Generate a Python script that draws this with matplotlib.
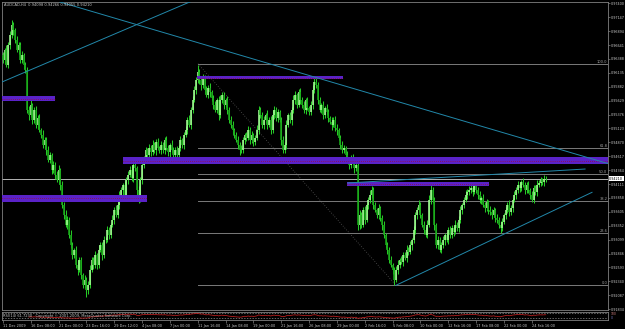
import numpy as np
import matplotlib
matplotlib.use("Agg")
import matplotlib.pyplot as plt
import matplotlib.transforms as mtransforms
from matplotlib.patches import Rectangle

W, H, DPI = 625, 329, 100
PX_PER_BAR = 1.74

title = "AUDCAD,H4  0.94098 0.94266 0.94055 0.94210"

# H4 closes, in pips (x 0.0001)
closes = [9637, 9655, 9628, 9664, 9682, 9700, 9691, 9673, 9655, 9664, 9637, 9646, 9628, 9619,
          9546, 9537, 9555, 9528, 9546, 9519, 9531, 9509, 9500, 9482, 9491,
          9473, 9455, 9464, 9437, 9446, 9428, 9418, 9437, 9409,
          9373, 9355, 9337, 9346, 9318, 9300, 9282, 9291, 9264, 9255, 9273,
          9246, 9227, 9237, 9218, 9227, 9255, 9273, 9264, 9282, 9264,
          9291, 9300, 9282, 9309, 9309, 9327, 9318, 9337, 9346, 9364, 9355, 9373,
          9391, 9400, 9409, 9391, 9418, 9428, 9437, 9422, 9446, 9440, 9400, 9382,
          9418, 9446, 9455, 9473, 9464, 9477, 9469, 9482, 9473, 9488, 9477, 9473,
          9482, 9473, 9491, 9477, 9469, 9482, 9473, 9464,
          9473, 9464, 9477, 9491, 9482, 9500, 9509, 9528, 9519, 9546,
          9564, 9582, 9600, 9615, 9600, 9591, 9604, 9582, 9573, 9586, 9578, 9568,
          9555, 9546, 9564, 9537, 9564, 9573, 9555, 9564, 9546, 9528, 9519, 9509,
          9500, 9491, 9482, 9473, 9473, 9491, 9500, 9495,
          9509, 9491, 9500, 9488, 9495, 9509, 9546, 9537, 9519,
          9528, 9537, 9519, 9528, 9509, 9537, 9546, 9531, 9542, 9528,
          9491, 9473, 9482, 9519, 9537, 9528, 9546,
          9564, 9573, 9555, 9578, 9564, 9555, 9546, 9564, 9549, 9542, 9555,
          9582, 9597, 9591, 9564, 9546, 9555, 9537, 9549, 9542,
          9531, 9524, 9519, 9528, 9513, 9509, 9495, 9482, 9473, 9477, 9464,
          9455, 9446, 9458, 9451, 9440, 9446,
          9337, 9355, 9337, 9364, 9346, 9373, 9382, 9391, 9400,
          9373, 9364, 9355, 9367, 9349, 9337,
          9318, 9300, 9291, 9273, 9264, 9255, 9237,
          9255, 9264, 9273, 9269, 9282, 9277, 9291, 9287, 9300, 9309,
          9327, 9355, 9364, 9373, 9355, 9337, 9327, 9318, 9337,
          9382, 9400, 9382, 9337, 9300, 9309, 9291, 9300, 9309,
          9318, 9309, 9327, 9318, 9331, 9324, 9337, 9331, 9346,
          9364, 9373, 9382, 9391, 9397, 9400, 9404, 9397, 9407, 9400,
          9391, 9382, 9386, 9373, 9367, 9378, 9364, 9360, 9355, 9364, 9349, 9346,
          9337, 9331, 9342, 9355, 9364, 9373, 9360, 9367, 9382,
          9391, 9400, 9409, 9404, 9415, 9409, 9400, 9409,
          9400, 9391, 9382, 9404, 9397, 9409, 9413,
          9418, 9415, 9420, 9421]
first_open = 9646

# wick lengths in pips above / below the body
up_wick = [6, 4, 9, 5, 8, 10, 6, 4, 7, 5, 6, 8, 4, 6, 5, 7, 9, 4, 6, 8,
           5, 7, 4, 9, 6, 5, 8, 6, 4, 7, 5, 6, 9, 4, 7, 5, 8, 6, 5, 9,
           6, 4, 7, 8, 5, 6, 4, 9, 5, 7, 8, 6, 5, 7, 4, 9, 6, 5, 8, 6,
           7, 5, 4, 8, 6, 9, 5, 7, 6, 4, 8, 5, 7, 6, 9, 8, 5, 4, 7, 6,
           5, 8, 6, 4, 7, 5, 9, 6, 5, 7, 4, 8, 6, 5, 7, 6, 4, 9, 5, 6,
           7, 5, 8, 4, 6, 7, 5, 9, 6, 8, 7, 5, 13, 6, 4, 8, 5, 7, 6, 9,
           5, 6, 8, 4, 7, 9, 5, 6, 4, 8, 5, 7, 6, 4, 5, 7, 6, 9, 5, 4,
           6, 8, 5, 7, 4, 6, 9, 8, 5, 6, 7, 4, 8, 5, 6, 9, 7, 5, 6, 4,
           5, 7, 6, 8, 4, 6, 5, 9, 7, 4, 6, 8, 5, 7, 4, 6, 5, 8, 9, 7,
           7, 5, 6, 4, 8, 5, 7, 6, 4, 9, 5, 6, 7, 4, 5, 8, 6, 4, 7, 5,
           6, 8, 4, 5, 7, 9, 6, 5, 8, 4, 6, 9, 7, 5, 6, 4, 8, 5, 6, 7,
           4, 6, 5, 7, 4, 5, 6, 8, 4, 7, 5, 6, 9, 5, 7, 4, 8, 6, 5, 9,
           6, 4, 7, 5, 8, 9, 9, 5, 6, 4, 7, 5, 6, 8, 4, 6, 5, 7, 6, 4,
           8, 5, 6, 7, 4, 6, 9, 5, 8, 6, 4, 7, 5, 6, 8, 4, 7, 5, 6, 4,
           7, 5, 6, 4, 8, 5, 6, 7, 4, 6, 5, 9, 6, 4, 7, 5, 8, 6, 4, 7,
           5, 6, 8, 4, 7, 5, 6, 9, 5, 6, 4, 7, 5]
dn_wick = [5, 7, 4, 6, 8, 5, 9, 6, 4, 7, 5, 6, 8, 5, 6, 9, 4, 7, 5, 6,
           8, 4, 6, 5, 7, 9, 4, 6, 8, 5, 7, 4, 6, 9, 5, 7, 4, 8, 6, 5,
           7, 5, 6, 9, 4, 8, 6, 5, 12, 7, 6, 4, 8, 5, 7, 6, 4, 9, 5, 6,
           4, 7, 6, 5, 8, 4, 6, 7, 5, 9, 6, 4, 7, 5, 6, 8, 5, 9, 6, 4,
           7, 5, 6, 8, 4, 7, 5, 6, 9, 4, 6, 8, 5, 7, 4, 6, 8, 5, 6, 7,
           4, 8, 6, 5, 7, 4, 6, 5, 8, 6, 4, 7, 5, 6, 9, 5, 7, 4, 6, 8,
           5, 7, 4, 6, 9, 5, 6, 8, 4, 7, 5, 6, 8, 5, 4, 7, 9, 6, 5, 7,
           6, 4, 7, 5, 8, 6, 4, 7, 5, 6, 8, 5, 7, 4, 6, 5, 8, 6, 7, 4,
           8, 6, 5, 7, 4, 6, 9, 5, 7, 6, 4, 8, 5, 6, 7, 4, 6, 5, 8, 6,
           5, 7, 4, 6, 8, 5, 6, 7, 4, 9, 5, 6, 8, 4, 7, 5, 6, 9, 5, 7,
           6, 4, 8, 5, 9, 7, 6, 5, 8, 4, 7, 5, 6, 8, 4, 6, 7, 5, 9, 6,
           5, 7, 6, 4, 8, 10, 5, 7, 6, 4, 8, 5, 7, 6, 4, 9, 5, 6, 8, 4,
           6, 5, 7, 4, 6, 5, 8, 6, 9, 5, 7, 4, 6, 5, 8, 4, 7, 6, 5, 8,
           4, 6, 7, 5, 8, 6, 4, 7, 5, 6, 8, 4, 6, 7, 5, 8, 4, 6, 5, 7,
           6, 8, 4, 7, 5, 6, 9, 5, 4, 7, 6, 8, 5, 6, 4, 7, 5, 8, 6, 4,
           7, 5, 6, 8, 4, 6, 5, 7, 4, 6, 5, 8, 6]

date_labels = ["11 Dec 2009", "16 Dec 08:00", "21 Dec 00:00", "23 Dec 16:00", "29 Dec 12:00",
               "4 Jan 08:00", "7 Jan 00:00", "11 Jan 16:00", "14 Jan 08:00", "19 Jan 00:00",
               "21 Jan 16:00", "26 Jan 08:00", "29 Jan 00:00", "2 Feb 16:00", "5 Feb 08:00",
               "10 Feb 00:00", "12 Feb 16:00", "17 Feb 08:00", "22 Feb 00:00", "24 Feb 16:00"]
BARS_PER_LABEL = 16

price_top_tick = 0.97400
price_tick_step = 0.00253
n_price_ticks = 23
y_limits = (0.91818, 0.97433)

# chart objects: (bar_from, bar_to, price_top, price_bottom)
bands = [(-0.5, 30.0, 0.95713, 0.95622),
         (-0.5, 83.0, 0.93911, 0.93784),
         (111.6, 195.5, 0.96077, 0.96022),
         (69.0, 348.0, 0.94594, 0.94475),
         (197.8, 279.4, 0.94148, 0.94075)]
# trend lines: ((bar, price), (bar, price))
trendlines = [((-0.5, 0.95968), (108.7, 0.97442)),
              ((32.8, 0.97424), (347.8, 0.94483)),
              ((225.9, 0.92267), (338.6, 0.93960)),
              ((198.4, 0.94130), (334.6, 0.94384))]
fib_start = (112.1, 0.96300)
fib_end = (225.9, 0.92270)
fib_levels = [0.0, 23.6, 38.2, 50.0, 61.8, 100.0]

BG = "#000000"
FG = "#c8c8c8"
GRID = "#808080"
BULL = "#a8ff98"
BEAR = "#1aa81a"
WICK = "#26c826"
BAND = "#5a22c8"
TREND = "#2288aa"

c = np.array(closes) / 10000.0
o = np.concatenate([[first_open / 10000.0], c[:-1]])
n = len(c)
hi = np.maximum(o, c) + np.array(up_wick[:n]) / 10000.0
lo = np.minimum(o, c) - np.array(dn_wick[:n]) / 10000.0
x = np.arange(n)

fig = plt.figure(figsize=(W / DPI, H / DPI), dpi=DPI, facecolor=BG)
plt.rcParams["font.family"] = ["DejaVu Sans"]
FS = 2.6

left, right = 2 / W, 608 / W
ax = fig.add_axes([left, 1 - 310 / H, right - left, (310 - 1.5) / H], facecolor=BG)
ax2 = fig.add_axes([left, 1 - 320 / H, right - left, (320 - 311.5) / H], facecolor=BG)

xmax = -0.5 + (608 - 2) / PX_PER_BAR
for a in (ax, ax2):
    a.set_xlim(-0.5, xmax)
    for s in a.spines.values():
        s.set_color(GRID)
        s.set_linewidth(0.6)
ax.set_ylim(*y_limits)

# candles
ax.vlines(x, lo, hi, colors=WICK, lw=0.75, zorder=3)
ax.vlines(x, np.minimum(o, c), np.maximum(o, c),
          colors=[BULL if cc >= oo else BEAR for oo, cc in zip(o, c)], lw=1.15, zorder=3)

# rectangles with dotted middle line
for x0, x1, pt, pb in bands:
    ax.add_patch(Rectangle((x0, pb), x1 - x0, pt - pb, facecolor=BAND, edgecolor="none", zorder=4))
    ax.plot([x0, x1], [(pt + pb) / 2] * 2, color="#b00000", ls=(0, (1, 2)), lw=0.5, zorder=5)

for (xa, pa), (xb, pb) in trendlines:
    ax.plot([xa, xb], [pa, pb], color=TREND, lw=0.7, zorder=6)

# fibonacci retracement
ax.plot([fib_start[0], fib_end[0]], [fib_start[1], fib_end[1]], color="#555555",
        ls=(0, (1, 2)), lw=0.6, zorder=2)
for lvl in fib_levels:
    p = fib_end[1] + lvl / 100.0 * (fib_start[1] - fib_end[1])
    ax.plot([fib_start[0], xmax], [p, p], color="#7a7a7a", lw=0.7, zorder=2)
    ax.text(xmax - 0.5, p, f"{lvl:.1f}", color="#a0a0a0", fontsize=FS, ha="right", va="bottom",
            zorder=7)

# bid line
last = c[-1]
ax.axhline(last, color="#b4b4b4", lw=0.7, zorder=2)

# price scale
ticks = [price_top_tick - k * price_tick_step for k in range(n_price_ticks)]
ax.yaxis.tick_right()
ax.set_yticks(ticks)
ax.set_yticklabels([f"{t:.5f}" for t in ticks])
ax.tick_params(axis="y", colors=GRID, labelcolor=FG, labelsize=2.4, length=1.5, width=0.5, pad=0.5)
ax.tick_params(axis="x", bottom=False, labelbottom=False)
trans = mtransforms.blended_transform_factory(ax.transAxes, ax.transData)
ax.text(1.002, last, f"{last:.5f}", transform=trans, fontsize=2.4, color="black", va="center",
        ha="left", bbox=dict(facecolor="white", edgecolor="none", pad=0.4), zorder=8)

fig.text(4 / W, 1 - 3 / H, title, color=FG, fontsize=FS, va="top", ha="left")

# indicator window: RSI of the closes
period = 14
d = np.diff(c)
gain = np.where(d > 0, d, 0.0)
loss = np.where(d < 0, -d, 0.0)
ag, al = gain[:period].mean(), loss[:period].mean()
rsi = [np.nan] * (period + 1)
for g, l_ in zip(gain[period:], loss[period:]):
    ag = (ag * (period - 1) + g) / period
    al = (al * (period - 1) + l_) / period
    rsi.append(100 - 100 / (1 + ag / al) if al > 0 else 100)
rsi = np.array(rsi)
ax2.set_ylim(0, 100)
for lv in (80, 20):
    ax2.axhline(lv, color="#909090", ls=(0, (2, 2)), lw=0.5)
ax2.plot(x, rsi, color="#b41e1e", lw=0.6)
ax2.set_yticks([])
ax2.text(0.002, 0.5, f"RSI(14) {rsi[-1]:.4f}   Copyright \u00a9 2001-2009, MetaQuotes Software Corp.",
         transform=ax2.transAxes, color=FG, fontsize=FS, va="center", ha="left")
ax2.text(1.004, 0.75, "100", transform=ax2.transAxes, color="#d08080", fontsize=2.2, va="center")
ax2.text(1.004, 0.25, "0", transform=ax2.transAxes, color="#8080d0", fontsize=2.2, va="center")

ax2.set_xticks([k * BARS_PER_LABEL for k in range(len(date_labels))])
ax2.set_xticklabels(date_labels, ha="left")
ax2.tick_params(axis="x", colors=GRID, labelcolor=FG, labelsize=2.5, length=2, width=0.5, pad=1.2)

fig.savefig("out.png", dpi=DPI, facecolor=BG)
